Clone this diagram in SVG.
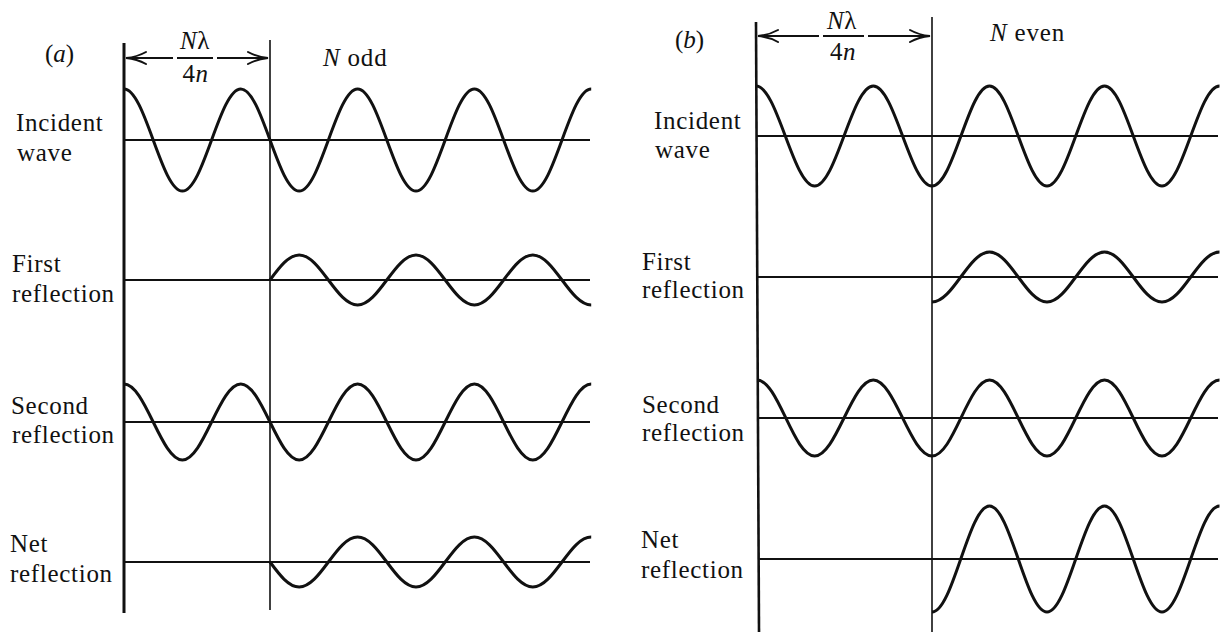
<svg xmlns="http://www.w3.org/2000/svg" width="1222" height="632" viewBox="0 0 1222 632">
<style>
  .lbl { font-family: "Liberation Serif", "Times New Roman", serif; font-size: 25px; letter-spacing: 0.7px; fill: #111111; }
  .ttl { font-family: "Liberation Serif", "Times New Roman", serif; font-size: 25px; fill: #111111; }
  .frac { font-family: "Liberation Serif", "Times New Roman", serif; font-size: 25px; letter-spacing: 0.6px; fill: #111111; }
  .it { font-style: italic; }
  .wave { fill: none; stroke: #111111; stroke-width: 3; stroke-linejoin: round; }
  .axis { stroke: #111111; stroke-width: 2; fill: none; }
  .thin { stroke: #111111; stroke-width: 1.6; fill: none; }
  .bold { stroke: #111111; stroke-width: 3; fill: none; }
  .dim { stroke: #111111; stroke-width: 1.8; fill: none; }
  .head { stroke: #111111; stroke-width: 2; fill: none; stroke-linecap: round; }
</style>
<rect width="1222" height="632" fill="#ffffff"/>

<!-- Panel (a) -->
<g id="panel-a">
  <g id="a-frame">
    <line class="bold" x1="124" y1="43" x2="124" y2="613"/>
    <line class="thin" x1="270" y1="40" x2="270" y2="610"/>
    <line class="axis" x1="124" y1="140" x2="590" y2="140"/>
    <line class="axis" x1="124" y1="280" x2="590" y2="280"/>
    <line class="axis" x1="124" y1="422" x2="590" y2="422"/>
    <line class="axis" x1="124" y1="562" x2="590" y2="562"/>
  </g>
  <g id="a-dimension">
    <line class="dim" x1="126" y1="58" x2="173" y2="58"/>
    <line class="dim" x1="177" y1="58" x2="213" y2="58"/>
    <line class="dim" x1="217" y1="58" x2="268" y2="58"/>
    <path class="head" d="M146,52 Q137,57 126,58 Q137,59 146,64"/>
    <path class="head" d="M248,52 Q257,57 268,58 Q257,59 248,64"/>
    <text class="frac" x="195" y="49" text-anchor="middle"><tspan class="it">N</tspan>λ</text>
    <text class="frac" x="195.5" y="82" text-anchor="middle">4<tspan class="it">n</tspan></text>
  </g>
  <text class="ttl" x="45" y="62">(<tspan class="it">a</tspan>)</text>
  <text class="ttl" x="323" y="66" style="letter-spacing:0.8px"><tspan class="it">N</tspan> odd</text>

  <g id="a-incident">
    <text class="lbl" x="16" y="131">Incident</text>
    <text class="lbl" x="17" y="161">wave</text>
    <path class="wave" d="M124,89 C145.2,89 161.2,191 182.4,191 S219.6,89 240.8,89 S278,191 299.2,191 S336.4,89 357.6,89 S394.8,191 416,191 S453.2,89 474.4,89 S511.6,191 532.8,191 S570,89 591.2,89"/>
  </g>
  <g id="a-first">
    <text class="lbl" x="12" y="272">First</text>
    <text class="lbl" x="12" y="302">reflection</text>
    <path class="wave" d="M270,280 C279.5,267.2 288.6,255 299.2,255 C320.4,255 336.4,305 357.6,305 S394.8,255 416,255 S453.2,305 474.4,305 S511.6,255 532.8,255 S570,305 591.2,305"/>
  </g>
  <g id="a-second">
    <text class="lbl" x="11" y="414">Second</text>
    <text class="lbl" x="12" y="443">reflection</text>
    <path class="wave" d="M124,384 C145.2,384 161.2,460 182.4,460 S219.6,384 240.8,384 S278,460 299.2,460 S336.4,384 357.6,384 S394.8,460 416,460 S453.2,384 474.4,384 S511.6,460 532.8,460 S570,384 591.2,384"/>
  </g>
  <g id="a-net">
    <text class="lbl" x="10" y="552">Net</text>
    <text class="lbl" x="10" y="582">reflection</text>
    <path class="wave" d="M270,562 C279.5,574.8 288.6,587 299.2,587 C320.4,587 336.4,537 357.6,537 S394.8,587 416,587 S453.2,537 474.4,537 S511.6,587 532.8,587 S570,537 591.2,537"/>
  </g>
</g>

<!-- Panel (b) -->
<g id="panel-b">
  <g id="b-frame">
    <line class="bold" x1="756" y1="22" x2="759" y2="632" style="stroke-width:2.6"/>
    <line class="thin" x1="932" y1="17" x2="932" y2="632"/>
    <line class="axis" x1="756" y1="136" x2="1218" y2="136"/>
    <line class="axis" x1="757" y1="277" x2="1218" y2="277"/>
    <line class="axis" x1="758" y1="418" x2="1218" y2="418"/>
    <line class="axis" x1="758" y1="559" x2="1218" y2="559"/>
  </g>
  <g id="b-dimension">
    <line class="dim" x1="758" y1="36" x2="819" y2="36"/>
    <line class="dim" x1="823" y1="36" x2="864" y2="36"/>
    <line class="dim" x1="868" y1="36" x2="930" y2="36"/>
    <path class="head" d="M778,30 Q769,35 758,36 Q769,37 778,42"/>
    <path class="head" d="M910,30 Q919,35 930,36 Q919,37 910,42"/>
    <text class="frac" x="842" y="29" text-anchor="middle"><tspan class="it">N</tspan>λ</text>
    <text class="frac" x="843" y="60" text-anchor="middle">4<tspan class="it">n</tspan></text>
  </g>
  <text class="ttl" x="675" y="48">(<tspan class="it">b</tspan>)</text>
  <text class="ttl" x="990" y="41" style="letter-spacing:0.8px"><tspan class="it">N</tspan> even</text>

  <g id="b-incident">
    <text class="lbl" x="654" y="129">Incident</text>
    <text class="lbl" x="655" y="158">wave</text>
    <path class="wave" d="M756,86 C777.3,86 793.3,186 814.65,186 S851.99,86 873.3,86 S910.6,186 932,186 S968.6,86 989.5,86 S1026.1,186 1047,186 S1083.6,86 1104.5,86 S1141.1,186 1162,186 S1198.6,86 1219.5,86"/>
  </g>
  <g id="b-first">
    <text class="lbl" x="642" y="270">First</text>
    <text class="lbl" x="642" y="298">reflection</text>
    <path class="wave" d="M932,302 C952.9,302 968.6,252 989.5,252 S1026.1,302 1047,302 S1083.6,252 1104.5,252 S1141.1,302 1162,302 S1198.6,252 1219.5,252"/>
  </g>
  <g id="b-second">
    <text class="lbl" x="642" y="413">Second</text>
    <text class="lbl" x="642" y="441">reflection</text>
    <path class="wave" d="M757,380 C778.3,380 793.3,456 814.65,456 S851.99,380 873.3,380 S910.6,456 932,456 S968.6,380 989.5,380 S1026.1,456 1047,456 S1083.6,380 1104.5,380 S1141.1,456 1162,456 S1198.6,380 1219.5,380"/>
  </g>
  <g id="b-net">
    <text class="lbl" x="641" y="548">Net</text>
    <text class="lbl" x="641" y="578">reflection</text>
    <path class="wave" d="M932,612 C952.9,612 968.6,506 989.5,506 S1026.1,612 1047,612 S1083.6,506 1104.5,506 S1141.1,612 1162,612 S1198.6,506 1219.5,506"/>
  </g>
</g>
</svg>
